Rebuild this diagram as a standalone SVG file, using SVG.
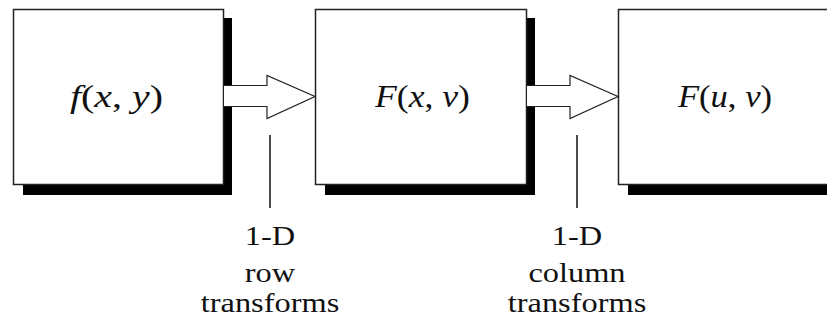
<svg xmlns="http://www.w3.org/2000/svg" width="827" height="320" viewBox="0 0 827 320">
<style>
.box{fill:#fff;stroke:#222;stroke-width:1.5}
.shadow{fill:#000}
.arrow{fill:#fff;stroke:#222;stroke-width:1.2;stroke-linejoin:miter}
.lead{stroke:#111;stroke-width:1.5;fill:none}
text{font-family:'Liberation Serif','Times New Roman',Times,'DejaVu Serif',serif}
.math{font-size:32px;fill:#111}
.i{font-style:italic}
.lbl{font-size:27px;fill:#111;text-anchor:middle}
</style>
<rect width="827" height="320" fill="#fff"/>
<g id="node-fxy">
<rect class="shadow" x="23" y="18" width="209" height="177"/>
<rect class="box" x="13.5" y="9.5" width="210" height="175"/>
<text class="math" x="70" y="107" textLength="93" lengthAdjust="spacingAndGlyphs"><tspan class="i">f</tspan>(<tspan class="i">x</tspan>, <tspan class="i">y</tspan>)</text>
</g>
<g id="node-Fxv">
<rect class="shadow" x="325" y="18" width="210" height="177"/>
<rect class="box" x="315.5" y="9.5" width="211" height="175"/>
<text class="math" x="375" y="107" textLength="95" lengthAdjust="spacingAndGlyphs"><tspan class="i">F</tspan>(<tspan class="i">x</tspan>, <tspan class="i">v</tspan>)</text>
</g>
<g id="node-Fuv">
<rect class="shadow" x="628" y="18" width="210" height="177"/>
<rect class="box" x="618.5" y="9.5" width="211" height="175"/>
<text class="math" x="678" y="107" textLength="94" lengthAdjust="spacingAndGlyphs"><tspan class="i">F</tspan>(<tspan class="i">u</tspan>, <tspan class="i">v</tspan>)</text>
</g>
<g id="connectors">
<path class="arrow" d="M224,85.5 H267 V75.5 L315,96.5 L267,118.5 V106.5 H224"/>
<path class="arrow" d="M527,85.5 H570 V75.5 L618,96.5 L570,118.5 V106.5 H527"/>
<line class="lead" x1="270" y1="135" x2="270" y2="208"/>
<line class="lead" x1="577" y1="135" x2="577" y2="208"/>
</g>
<g id="label-row">
<text class="lbl" transform="translate(270,245) scale(1.2,1)">1-D</text>
<text class="lbl" transform="translate(270,282) scale(1.2,1)">row</text>
<text class="lbl" transform="translate(270,312) scale(1.2,1)">transforms</text>
</g>
<g id="label-column">
<text class="lbl" transform="translate(577,245) scale(1.2,1)">1-D</text>
<text class="lbl" transform="translate(577,282) scale(1.2,1)">column</text>
<text class="lbl" transform="translate(577,312) scale(1.2,1)">transforms</text>
</g>
</svg>
